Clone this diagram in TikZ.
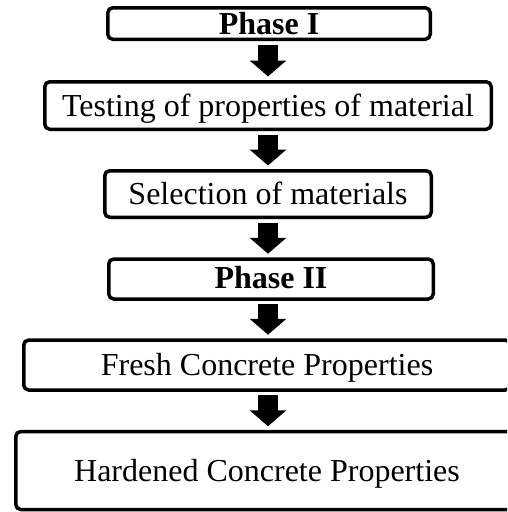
\documentclass[tikz,border=0pt]{standalone}
\usepackage{fontspec}
\setmainfont{Liberation Serif}
\usetikzlibrary{arrows.meta}
\begin{document}
\begin{tikzpicture}[x=1pt,y=-1pt,
  stepbox/.style={draw=black, line width=3.5pt, rounded corners=5pt, fill=white,
    inner sep=0pt, font=\fontsize{32}{38}\selectfont,
    text height=21pt, text depth=0pt, align=center},
  phase/.style={stepbox, font=\fontsize{32}{38}\selectfont\bfseries},
  flowarrow/.style={line width=20pt, -{Triangle[width=36pt,length=16pt]},
    shorten <=3.5pt, shorten >=3.5pt}
]
% page area
\clip (0,0) rectangle (507,512);
\fill[white] (0,0) rectangle (507,512);

% common axis of the arrows
\coordinate (ax) at (268,0);

% steps of the procedure
\node[phase, minimum width=322.5pt, minimum height=31.5pt] (p1) at (269,23.5)
  {Phase I};
\node[stepbox, minimum width=446.5pt, minimum height=47.5pt] (test) at (268,105.5)
  {Testing of properties of material};
\node[stepbox, minimum width=326.5pt, minimum height=46.5pt] (sel) at (268,194)
  {Selection of materials};
\node[phase, minimum width=324.5pt, minimum height=40pt] (p2) at (271,279)
  {\raisebox{1.5pt}{Phase II}};
\node[stepbox, minimum width=486.5pt, minimum height=50pt] (fresh) at (267,365)
  {Fresh Concrete Properties};
\node[stepbox, minimum width=502.5pt, minimum height=78pt] (hard) at (267,470.5)
  {Hardened Concrete Properties};

% block arrows between the steps
\draw[flowarrow] (p1.south -| ax) -- (test.north -| ax);
\draw[flowarrow] (test.south -| ax) -- (sel.north -| ax);
\draw[flowarrow] (sel.south -| ax) -- (p2.north -| ax);
\draw[flowarrow] (p2.south -| ax) -- (fresh.north -| ax);
\draw[flowarrow] (fresh.south -| ax) -- (hard.north -| ax);
\end{tikzpicture}
\end{document}
